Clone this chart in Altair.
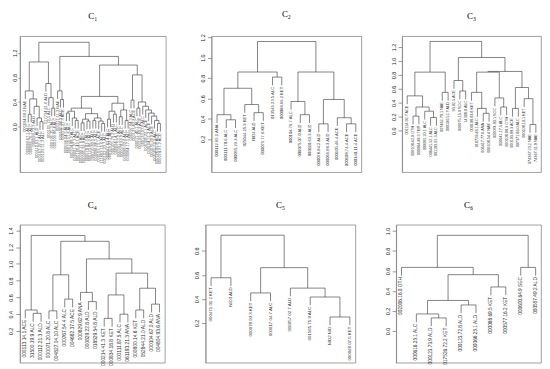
import altair as alt
import pandas as pd

SANS = "Liberation Sans, Arial, sans-serif"
SERIF = "Liberation Serif, Times New Roman, DejaVu Serif, serif"

# ---------------- data ----------------
c1_labels = [
    "000094.68.2 NAE", "000088.67.1 ALC", "000086.70.1 ALC", "000099.72.3 ALD", "000110.63.1 ALD",
    "000107.22.1 ALC", "000123.51.3 ALC", "017734.61.6 ALD", "000105.72.5 ALC", "000106.35.3 ALC",
    "000109.86.4 ALC", "000111.11.3 NAE", "000590.86.3 ALC", "000111.27.3 ACE", "000096.04.5 ALC",
    "000100.51.6 ALC", "000104.88.2 ALC", "000091.27.3 ALC", "000100.42.1 ACE", "000099.37.6 ALC",
    "000095.92.8 ALC", "000078.83.3 ALC", "000123.86.2 ALC", "000110.82.5 ALC", "000096.86.5 ALC",
    "000103.13.1 ACE", "111662.15.6 ALC", "000102.23.7 ALC", "000067.63.4 ALC", "000109.23.1 ALC",
    "000105.79.2 ALD", "000094.14.1 ALC", "000091.53.2 ALC", "000078.92.2 ALC", "000098.02.6 ALC",
    "000064.17.5 ALC", "000097.64.3 ALC", "000123.42.2 ACE", "000071.40.1 ALC", "000109.49.3 ACE",
    "000123.07.8 ALC", "000108.23.1 ACE", "000104.51.2 ACE", "000079.20.9 ACE", "000105.59.9 ALC",
    "000126.65.8 ACE", "000074.97.2 ACE",
]
c1_tree = [
    [[1, [[2, 3, 0.20], [4, [5, [6, 7, 0.08], 0.14], 0.33], 0.45], 0.58],
     [8, [9, [10, 11, 0.30], 0.47], 0.70], 1.05],
    [[12, [13, 14, 0.44], 0.58],
     [[[[[15, 16, 0.22], [17, [18, 19, 0.10], 0.14], 0.25],
         [[[20, 21, 0.06], [22, 23, 0.09], 0.12], [[24, 25, 0.10], [26, [27, 28, 0.05], 0.09], 0.14], 0.21], 0.30],
        [[[29, 30, 0.12], [31, 32, 0.20], 0.25], [[33, 34, 0.16], [35, 36, 0.10], 0.27], 0.38], 0.49],
       [[37, 38, 0.43],
        [[39, 40, 0.30], [41, [42, [43, [44, [45, [46, 47, 0.05], 0.10], 0.17], 0.22], 0.27], 0.33], 0.40], 0.84],
      1.00], 1.14],
    1.37]

c2_labels = [
    "000112.69.1 ANA", "000111.70.6 ALC", "000095.23.3 ALC", "025044.25.3 KET", "NID4 ALD",
    "000079.77.6 KET", "013549.23.5 ALC", "000088.66.2 KET", "000104.76.7 ALC", "000075.07.0 ALD",
    "000110.63.3 ALD", "000078.84.2 ALD", "000069.86.3 ALD", "000105.46.4 ACE", "000108.74.4 ACE",
    "000140.11.4 ACE",
]
c2_tree = [
    [[[1, [2, 3, 0.39], 0.44], [4, [5, 6, 0.46], 0.54], 0.70], [7, 8, 0.81], 0.86],
    [[9, [10, 11, 0.44], 0.57], [[12, 13, 0.35], [14, [15, 16, 0.35], 0.41], 0.59], 0.86],
    1.16]

c3_labels = [
    "001114.92.7 ACE", "000108.42.0 OTH", "000084.49.3 TER", "000091.20.1 ALC", "006441.52.1 ALC",
    "001193.01.3 ALC", "007462.79.1 NAE", "000100.52.7 ALD", "93.92.5 ACE", "000075.15.0 SOC",
    "14308.8 ALC", "000108.83.8 KET", "018729.48.1 ALC", "006417.77.6 ANA", "000108.54.4 NAE",
    "000074.93.1 SOC", "000041.17.5 ALC", "000108.98.3 OTH", "000103.99.3 ACE", "007371.86.0 ALC",
    "000108.10.1 KET", "074367.23.2 NAE", "74367.31.9 NAE",
]
c3_tree = [
    [[1, [[2, 3, 0.21], [4, [5, 6, 0.19], 0.28], 0.34], 0.50], [7, 8, 0.55], 0.84],
    [[9, [10, 11, 0.57], 0.72],
     [[[12, [13, [14, 15, 0.25], 0.32], 0.55], [16, [17, 18, 0.34], 0.47], 0.84],
      [[19, 20, 0.32], [21, [22, 23, 0.09], 0.46], 0.62], 0.85], 1.05],
    1.28]

c4_labels = [
    "000113.14.1 ACE", "31500.19.9 ALC", "000112.21.3 ALD", "000071.20.8 ALC", "004827.04.10 ALC",
    "000767.54.4 ALC", "004682.37.5 ACE", "000829.62.9 ANA", "000829.22.8 ALD", "018529.54.8 ALD",
    "000214.41.3 KET", "000834.18.8 KET", "000111.87.5 ALC", "061193.21.3 ANA", "000800.14.6 KET",
    "052844.21.0 ALD", "000104.67.0 ALD", "004804.93.6 ANA",
]
c4_tree = [
    [1, [2, 3, 0.41], 0.45],
    [[[4, 5, 0.44], [6, 7, 0.58], 0.87],
     [[8, [9, 10, 0.55], 0.66],
      [[[11, 12, 0.35], [13, 14, 0.40], 0.63], [[15, 16, 0.45], [17, 18, 0.52], 0.71], 0.89], 1.06],
     1.27],
    1.34]

c5_labels = [
    "000471.01.2 KET", "NID3 ALD", "000078.93.3 KET", "000617.04.7 ALC", "006057.02.7 ALD",
    "001565.75.9 ALC", "NID2 NID", "000048.07.5 KET",
]
c5_tree = [
    [1, 2, 0.576],
    [[3, 4, 0.45], [5, [6, [7, 8, 0.25], 0.416], 0.49], 0.66],
    0.93]

c6_labels = [
    "002006.16.0 OTH", "000616.25.1 ALC", "000123.73.9 ALD", "017526.72.2 KET", "000123.72.8 ALD",
    "000066.25.1 ALD", "000088.69.5 KET", "000577.16.2 KET", "000600.64.9 SEC", "000557.49.2 ALD",
]
c6_tree = [
    [1, [[[2, [3, 4, 0.13], 0.17], [5, 6, 0.26], 0.305], [7, 8, 0.44], 0.563], 0.636],
    [9, 10, 0.636],
    0.957]


# ---------------- helpers ----------------
def build(tree, labels):
    hs = []

    def collect(n):
        if isinstance(n, int):
            return
        collect(n[0])
        collect(n[1])
        hs.append(n[2])

    collect(tree)
    hang = 0.1 * (max(hs) - min(hs))
    segs, leaves = [], []

    def walk(n, ph):
        if isinstance(n, int):
            y = ph - hang
            segs.append({"x": n, "x2": n, "y": y, "y2": ph})
            leaves.append({"x": n, "y": y, "label": labels[n - 1]})
            return n
        xl = walk(n[0], n[2])
        xr = walk(n[1], n[2])
        segs.append({"x": xl, "x2": xr, "y": n[2], "y2": n[2]})
        xm = (xl + xr) / 2
        if ph is not None:
            segs.append({"x": xm, "x2": xm, "y": n[2], "y2": ph})
        return xm

    walk(tree, None)
    return pd.DataFrame(segs), pd.DataFrame(leaves)


def panel(title, tree, labels, ydom, yticks, w, h, fs, tick, pad, tcol="#333"):
    segs, leaves = build(tree, labels)
    n = len(labels)
    ext = 0.04 * (n - 1)
    xs = alt.Scale(domain=[1 - ext, n + ext], nice=False, zero=False)
    ys = alt.Scale(domain=ydom, nice=False, zero=False)
    ax = alt.Axis(values=yticks, format=".1f", labelAngle=270, labelAlign="center",
                  labelBaseline="bottom", labelFontSize=5.5, labelFont=SANS, labelColor="#222",
                  tickSize=tick, tickColor="#555", tickWidth=0.6, labelPadding=pad,
                  domain=True, domainColor="#888", domainWidth=0.8, grid=False, title=None,
                  labelFlush=False, labelOverlap=False)
    lines = alt.Chart(segs).mark_rule(color="#333", strokeWidth=0.6).encode(
        x=alt.X("x:Q", scale=xs, axis=None), x2="x2:Q",
        y=alt.Y("y:Q", scale=ys, axis=ax), y2="y2:Q")
    texts = alt.Chart(leaves).mark_text(
        angle=270, align="right", baseline="middle", dx=-1.5, fontSize=fs,
        font=SANS, color=tcol).encode(
        x=alt.X("x:Q", scale=xs, axis=None),
        y=alt.Y("y:Q", scale=ys, axis=ax), text="label:N")
    return alt.layer(lines, texts).properties(
        width=w, height=h,
        title=alt.TitleParams(text=title, font=SERIF, fontSize=9, fontWeight="normal",
                              anchor="middle", offset=15, color="black"))


p1 = panel("C₁", c1_tree, c1_labels, [-0.74, 1.47], [0.0, 0.4, 0.8, 1.2], 147, 137, 4.0, 2, 0, "#555")
p2 = panel("C₂", c2_tree, c2_labels, [-0.125, 1.213], [0.2, 0.4, 0.6, 0.8, 1.0, 1.2], 151, 137, 4.2, 4, 2)
p3 = panel("C₃", c3_tree, c3_labels, [-0.593, 1.356], [0.0, 0.2, 0.4, 0.6, 0.8, 1.0, 1.2], 140, 137, 3.8, 4, 2)
p4 = panel("C₄", c4_tree, c4_labels, [-0.179, 1.468], [0.2, 0.4, 0.6, 0.8, 1.0, 1.2, 1.4], 146, 139, 4.9, 4, 2)
p5 = panel("C₅", c5_tree, c5_labels, [-0.13, 1.017], [0.2, 0.4, 0.6, 0.8], 151, 139, 4.4, 4, 2)
p6 = panel("C₆", c6_tree, c6_labels, [-0.318, 1.063], [0.0, 0.2, 0.4, 0.6, 0.8, 1.0], 146, 139, 4.8, 4, 2)

row1 = alt.hconcat(alt.hconcat(p1, p2, spacing=33), p3, spacing=28)
row2 = alt.hconcat(p4, p5, p6, spacing=28)
chart = alt.vconcat(row1, row2, spacing=27).configure_view(
    stroke="#888", strokeWidth=0.8).properties(padding=0, background="white")

chart.save("out.html", embed_options={"renderer": "svg", "actions": False})
